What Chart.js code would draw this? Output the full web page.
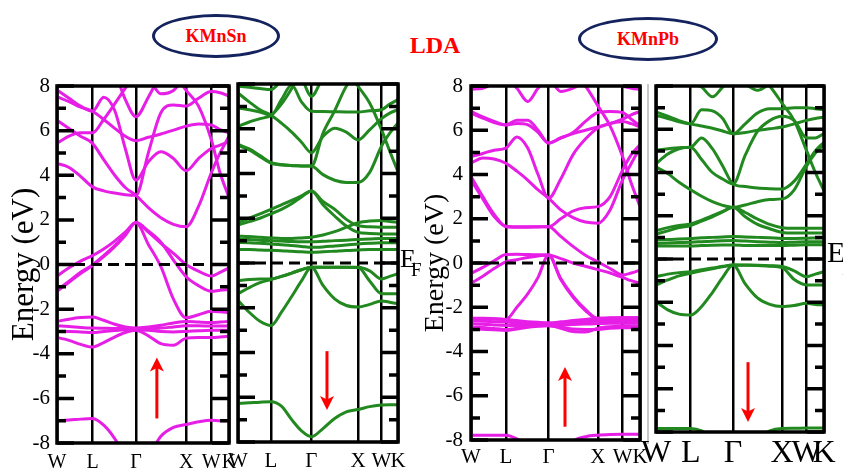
<!DOCTYPE html>
<html>
<head>
<meta charset="utf-8">
<script src="https://cdn.jsdelivr.net/npm/chart.js@4.4.1/dist/chart.umd.min.js"></script>
<style>
  html, body { margin: 0; padding: 0; background: #fff; }
  #wrap { position: relative; width: 843px; height: 471px; overflow: hidden; background: #fff; }
  #wrap canvas { position: absolute; left: 0; top: 0; }
  .tag {
    position: absolute; box-sizing: border-box; border: 3px solid #14235e; border-radius: 50%;
    display: flex; align-items: center; justify-content: center;
    font: bold 18px "Liberation Serif", "Times New Roman", serif; color: #f00;
  }
  .lbl { position: absolute; font-family: "Liberation Serif", "Times New Roman", serif; color: #000; line-height: 1; white-space: nowrap; }
  .sep { position: absolute; background: #c8c8c8; }
</style>
</head>
<body>
<div id="wrap">
  <div class="tag" style="left:152px;top:14px;width:128px;height:44px;">KMnSn</div>
  <div class="lbl" style="left:385px;top:33px;width:100px;text-align:center;font-weight:bold;font-size:24px;color:#f00;">LDA</div>
  <div class="tag" style="left:578px;top:17px;width:140px;height:44px;">KMnPb</div>
  <div class="sep" style="left:647px;top:84px;width:1.5px;height:360px;"></div>
  <canvas id="c1" width="843" height="471"></canvas>
  <canvas id="c2" width="843" height="471"></canvas>
  <canvas id="c3" width="843" height="471"></canvas>
  <canvas id="c4" width="843" height="471"></canvas>
  <div class="lbl" style="left:400px;top:246px;font-size:26px;">E</div>
  <div class="lbl" style="left:411px;top:260px;font-size:19px;">F</div>
  <div class="lbl" style="left:827px;top:237px;font-size:30px;">E</div>
  <div class="lbl" style="left:842px;top:258px;font-size:20px;">F</div>
</div>
<script>
// k-path W-L-Γ-X-W-K (distances in units of 2π/a) and the sampling grid used for every band
const kGrid = [0, 0.24, 0.47, 0.707, 0.93, 1.15, 1.36, 1.573, 1.82, 2.07, 2.32, 2.573, 2.82, 3.073, 3.25, 3.427];
const kPoints = [0, 0.707, 1.573, 2.573, 3.073, 3.427];
const kLabels = ['W', 'L', 'Γ', 'X', 'W', 'K'];
const energyTicks = [8, 6, 4, 2, 0, -2, -4, -6, -8];

// KMnSn, spin up (eV)
const snUpBands = [
  [-7.0,-6.97,-6.93,-6.9,-7.2,-7.8,-8.6,-9.2,-8.6,-7.7,-7.3,-7.17,-7.05,-6.98,-7.0,-7.0],
  [-2.55,-2.45,-2.38,-2.35,-2.5,-2.68,-2.8,-2.85,-2.8,-2.72,-2.62,-2.55,-2.58,-2.6,-2.58,-2.55],
  [-2.75,-2.78,-2.82,-2.85,-2.86,-2.87,-2.88,-2.9,-2.88,-2.85,-2.8,-2.75,-2.75,-2.76,-2.76,-2.75],
  [-3.0,-3.0,-3.02,-3.05,-3.0,-2.96,-2.93,-2.92,-2.95,-3.0,-3.02,-3.0,-2.97,-2.95,-2.95,-2.95],
  [-3.27,-3.4,-3.58,-3.7,-3.5,-3.25,-3.05,-2.95,-3.2,-3.55,-3.62,-3.3,-3.27,-3.27,-3.25,-3.22],
  [-0.52,-0.15,0.15,0.4,0.7,1.05,1.45,1.88,1.45,0.95,0.5,0.0,-0.3,-0.52,-0.35,-0.15],
  [-1.2,-0.8,-0.4,-0.05,0.35,0.8,1.3,1.88,0.9,-0.1,-1.55,-2.39,-2.25,-2.1,-2.12,-2.15],
  [-1.15,-0.75,-0.35,-0.02,0.4,0.85,1.35,1.88,1.5,1.0,0.2,-0.55,-0.95,-1.2,-1.15,-1.12],
  [7.82,7.45,7.1,6.87,7.5,6.9,5.2,3.78,4.6,5.05,4.75,4.2,4.75,5.2,5.35,5.5],
  [7.52,7.3,7.05,6.87,6.5,6.1,5.75,5.55,5.7,5.85,6.02,6.2,6.3,6.25,6.05,5.9],
  [5.43,5.75,5.9,5.9,6.5,7.2,7.9,8.6,9,9,9,9,9,9,9,9],
  [9,9,9,9,9,8.6,7.4,6.62,7.5,8.5,9,9,9,9,9,9],
  [6.47,6.1,5.75,5.43,4.7,4.0,3.45,3.1,2.55,2.1,1.8,1.69,2.6,4.1,5.0,5.75],
  [4.53,4.35,3.95,3.48,3.3,3.2,3.13,3.1,5.0,6.8,7.15,7.1,7.45,7.75,7.7,7.55],
  [9,9,9,9,9,9,9,9,8.4,7.65,7.8,8.5,9,9,9,9],
  [9,9,9,9,9,9,9,9,9,8.9,8.6,7.8,7.1,5.6,4.1,3.0]
];

// KMnSn, spin down (eV)
const snDownBands = [
  [-6.28,-6.25,-6.22,-6.2,-6.4,-7.0,-7.5,-7.76,-7.4,-6.95,-6.65,-6.55,-6.42,-6.35,-6.33,-6.33],
  [-0.78,-0.74,-0.72,-0.71,-0.6,-0.45,-0.3,-0.19,-0.19,-0.19,-0.19,-0.19,-0.35,-0.71,-0.6,-0.48],
  [-1.37,-1.1,-0.88,-0.74,-0.6,-0.45,-0.3,-0.19,-1.0,-1.6,-1.9,-1.97,-1.85,-1.7,-1.75,-1.82],
  [-1.67,-2.2,-2.6,-2.79,-2.2,-1.5,-0.8,-0.19,-0.19,-0.19,-0.19,-0.2,-0.8,-1.37,-1.37,-1.37],
  [1.81,2.0,2.2,2.4,2.6,2.8,3.0,3.22,2.75,2.4,1.95,1.67,1.62,1.6,1.6,1.6],
  [1.7,1.85,2.0,2.2,2.4,2.65,2.95,3.22,2.6,2.1,1.65,1.37,1.32,1.3,1.3,1.3],
  [1.07,1.05,1.02,1.0,0.98,0.96,0.95,0.95,0.97,1.0,1.02,1.05,1.07,1.1,1.1,1.1],
  [0.92,0.9,0.88,0.85,0.82,0.78,0.74,0.7,0.72,0.76,0.8,0.85,0.88,0.9,0.9,0.9],
  [0.6,0.6,0.58,0.57,0.55,0.52,0.5,0.48,0.5,0.53,0.56,0.58,0.6,0.6,0.6,0.6],
  [1.2,1.18,1.15,1.12,1.1,1.1,1.12,1.15,1.25,1.4,1.6,1.8,1.88,1.9,1.85,1.82],
  [7.6,7.2,6.85,6.6,6.25,5.85,5.4,4.93,5.65,6.02,5.85,5.5,5.95,6.45,6.7,6.85],
  [6.93,6.85,6.75,6.6,7.3,7.95,7.2,6.78,6.77,6.76,6.75,6.75,6.8,6.85,7.1,7.3],
  [9,9,9,9,9,9,8.3,7.45,8.3,9,9,9,9,9,9,9],
  [6.1,6.3,6.45,6.6,7.1,7.8,8.6,9,9,9,9,9,9,9,9,9],
  [5.3,5.1,4.8,4.48,4.4,4.36,4.34,4.33,3.95,3.7,3.6,3.6,4.05,5.22,5.8,6.26],
  [5.25,5.05,4.75,4.46,4.38,4.35,4.34,4.33,5.8,6.8,7.9,8.5,9,9,9,9],
  [9,9,9,9,9,9,9,9,9,9,8.7,7.9,7.15,5.96,5.0,4.07],
  [7.9,7.85,7.8,7.75,8.2,9,9,9,9,9,9,9,9,9,9,9]
];

// KMnPb, spin up (eV)
const pbUpBands = [
  [-7.78,-7.78,-7.78,-7.78,-7.95,-8.3,-8.8,-9.0,-8.7,-8.05,-7.85,-7.78,-7.75,-7.74,-7.74,-7.74],
  [-2.5,-2.5,-2.52,-2.55,-2.6,-2.65,-2.68,-2.7,-2.66,-2.6,-2.55,-2.5,-2.48,-2.47,-2.47,-2.48],
  [-2.62,-2.63,-2.65,-2.67,-2.7,-2.72,-2.74,-2.75,-2.72,-2.68,-2.65,-2.62,-2.6,-2.6,-2.6,-2.6],
  [-2.75,-2.77,-2.8,-2.82,-2.82,-2.8,-2.8,-2.8,-2.8,-2.78,-2.76,-2.74,-2.72,-2.72,-2.72,-2.72],
  [-2.9,-2.92,-2.96,-3.0,-2.95,-2.88,-2.84,-2.82,-2.95,-3.1,-3.12,-2.95,-2.88,-2.85,-2.85,-2.85],
  [-2.98,-3.0,-3.02,-3.05,-2.98,-2.9,-2.86,-2.84,-2.9,-2.98,-3.0,-3.0,-2.95,-2.93,-2.93,-2.93],
  [-0.47,-0.2,0.1,0.38,0.4,0.38,0.37,0.36,0.2,0.0,-0.15,-0.3,-0.45,-0.65,-0.8,-0.92],
  [-0.92,-0.6,-0.25,0.05,0.15,0.25,0.32,0.36,-0.7,-1.5,-2.1,-2.5,-2.5,-2.52,-2.52,-2.52],
  [-2.5,-2.52,-2.53,-2.55,-2.0,-1.4,-0.65,0.36,-0.75,-1.55,-2.15,-2.53,-2.5,-2.48,-2.48,-2.48],
  [6.85,6.6,6.4,6.24,6.45,6.45,6.0,5.42,5.65,5.85,6.0,6.15,6.3,6.4,6.3,6.15],
  [6.77,6.55,6.35,6.24,6.3,6.25,5.9,5.42,5.65,5.9,6.4,6.8,6.85,6.8,6.5,6.2],
  [4.81,4.95,5.1,5.19,5.7,5.2,4.0,2.93,3.8,4.9,5.6,6.1,6.3,6.5,6.7,6.85],
  [4.51,4.75,4.7,4.51,4.15,3.75,3.3,2.93,2.4,2.05,1.85,1.8,2.4,3.76,4.5,5.2],
  [3.91,3.0,2.2,1.64,1.62,1.62,1.63,1.64,1.2,0.75,0.35,0.05,-0.25,-0.54,-0.45,-0.32],
  [3.76,2.9,2.1,1.66,1.64,1.64,1.64,1.64,2.0,2.35,2.5,2.55,3.0,4.2,4.9,5.35],
  [8.6,8.6,8.6,8.6,8.6,8.6,8.6,8.6,8.6,8.5,8.0,7.1,6.2,4.81,3.6,2.55],
  [7.85,7.9,8.1,8.3,7.9,7.3,7.9,8.3,7.75,7.9,8.2,8.4,8.3,8.0,7.9,7.85]
];

// KMnPb, spin down (eV)
const pbDownBands = [
  [-7.84,-7.84,-7.84,-7.84,-7.95,-8.3,-8.7,-8.9,-8.7,-8.3,-7.95,-7.84,-7.83,-7.82,-7.82,-7.82],
  [-0.82,-0.7,-0.63,-0.59,-0.5,-0.42,-0.34,-0.28,-0.28,-0.29,-0.31,-0.35,-0.55,-0.82,-0.7,-0.59],
  [-1.2,-0.97,-0.78,-0.66,-0.55,-0.45,-0.36,-0.28,-0.29,-0.3,-0.33,-0.4,-0.95,-1.2,-1.2,-1.2],
  [-1.97,-2.35,-2.55,-2.59,-2.2,-1.55,-0.85,-0.28,-1.15,-1.8,-2.1,-2.2,-2.15,-2.05,-2.1,-2.13],
  [1.31,1.45,1.55,1.62,1.8,2.0,2.2,2.39,1.95,1.6,1.4,1.23,1.2,1.2,1.2,1.2],
  [1.15,1.3,1.45,1.55,1.75,1.95,2.18,2.39,2.15,1.85,1.6,1.45,1.42,1.42,1.42,1.42],
  [0.88,0.9,0.92,0.95,0.98,1.0,1.02,1.04,1.02,1.0,0.98,0.95,0.95,0.96,0.97,0.98],
  [0.72,0.74,0.76,0.78,0.8,0.82,0.84,0.85,0.83,0.8,0.78,0.76,0.78,0.8,0.8,0.8],
  [0.6,0.6,0.6,0.6,0.62,0.64,0.65,0.65,0.63,0.62,0.62,0.62,0.64,0.66,0.66,0.66],
  [6.8,6.6,6.4,6.25,6.15,6.05,5.92,5.79,5.85,5.95,6.02,6.1,6.25,6.41,6.5,6.56],
  [6.64,6.5,6.35,6.25,6.9,6.85,6.5,5.79,6.25,6.75,6.95,6.95,7.0,7.0,6.95,6.9],
  [5.02,5.1,5.15,5.17,5.6,5.1,4.3,3.47,3.35,3.28,3.25,3.24,3.6,4.4,5.0,5.4],
  [4.4,4.85,5.1,5.17,4.6,4.0,3.7,3.47,4.8,5.9,6.4,6.6,6.4,5.6,5.6,5.8],
  [4.25,3.95,3.55,3.2,2.9,2.65,2.48,2.39,2.5,2.65,2.75,2.78,3.2,4.3,4.9,5.3],
  [9,9,9,9,9,9,9,9,8.9,8.6,8.0,7.2,6.4,5.0,4.0,3.16],
  [8.5,8.4,8.3,8.15,7.95,7.5,7.95,8.4,8.1,7.8,8.1,8.5,8.6,8.6,8.6,8.6]
];

// spin arrows: [k position, tail energy, tip energy]
const snUpArrow = [1.99, -6.9, -4.17];
const snDownArrow = [1.906, -3.94, -6.57];
const pbUpArrow = [1.906, -7.4, -4.7];
const pbDownArrow = [1.877, -4.77, -7.54];

const MAGENTA = '#e61ee6';
const GREEN = '#21891f';
const SERIF = '"Liberation Serif", "Times New Roman", serif';

// frame, inward energy ticks and the spin arrow
const framePlugin = {
  id: 'bandFrame',
  afterDatasetsDraw(chart, args, opts) {
    const { ctx, chartArea: a } = chart;
    const ys = chart.scales.y, xs = chart.scales.x;
    ctx.save();
    ctx.strokeStyle = '#000';
    ctx.lineWidth = 3.5;
    ctx.lineCap = 'butt';
    ctx.beginPath();
    for (let v = -8; v <= 8; v++) {
      const y = ys.getPixelForValue(v);
      const len = v % 2 === 0 ? 17 : 9;
      ctx.moveTo(a.left, y); ctx.lineTo(a.left + len, y);
      ctx.moveTo(a.right, y); ctx.lineTo(a.right - len, y);
    }
    ctx.stroke();
    ctx.strokeRect(a.left, a.top, a.right - a.left, a.bottom - a.top);

    const arr = opts.arrow;
    if (arr) {
      const x = xs.getPixelForValue(arr[0]);
      const y0 = ys.getPixelForValue(arr[1]);
      const y1 = ys.getPixelForValue(arr[2]);
      const dir = Math.sign(y1 - y0);
      const head = 14, half = 7;
      ctx.strokeStyle = '#f00';
      ctx.fillStyle = '#f00';
      ctx.lineWidth = 3;
      ctx.beginPath();
      ctx.moveTo(x, y0); ctx.lineTo(x, y1 - dir * head * 0.7);
      ctx.stroke();
      ctx.beginPath();
      ctx.moveTo(x, y1);
      ctx.lineTo(x - half, y1 - dir * head);
      ctx.lineTo(x, y1 - dir * head * 0.75);
      ctx.lineTo(x + half, y1 - dir * head);
      ctx.closePath();
      ctx.fill();
    }
    ctx.restore();
  }
};

function makePanel(p) {
  const datasets = p.bands.map(b => ({
    data: kGrid.map((k, i) => ({ x: k, y: b[i] })),
    borderColor: p.color,
    borderWidth: 3,
    pointRadius: 0,
    fill: false,
    cubicInterpolationMode: 'monotone'
  }));
  datasets.unshift({
    data: [{ x: kPoints[0], y: 0 }, { x: kPoints[kPoints.length - 1], y: 0 }],
    borderColor: '#000',
    borderWidth: 3,
    borderDash: [11, 6],
    pointRadius: 0,
    fill: false,
    order: -1
  });
  const a = p.area;
  new Chart(document.getElementById(p.id), {
    type: 'line',
    data: { datasets },
    options: {
      responsive: false,
      animation: false,
      events: [],
      layout: { padding: { left: a.left - p.yWidth, right: 843 - a.right, top: a.top, bottom: 0 } },
      plugins: {
        legend: { display: false },
        tooltip: { enabled: false },
        bandFrame: { arrow: p.arrow }
      },
      scales: {
        x: {
          type: 'linear', min: kPoints[0], max: kPoints[kPoints.length - 1],
          afterBuildTicks: s => { s.ticks = kPoints.map(v => ({ value: v })); },
          afterFit: s => { s.height = 471 - a.bottom; },
          grid: { color: '#000', lineWidth: 2.5, drawTicks: false },
          border: { display: false },
          ticks: {
            autoSkip: false, maxRotation: 0, padding: p.xPad, color: '#000',
            font: { family: SERIF, size: p.xFont },
            callback: (v, i) => kLabels[i]
          }
        },
        y: {
          type: 'linear', min: -8, max: 8,
          afterBuildTicks: s => { s.ticks = energyTicks.map(v => ({ value: v })); },
          afterFit: s => { s.width = p.yWidth; },
          grid: { display: false, drawTicks: false },
          border: { display: false },
          ticks: {
            display: p.yLabels, padding: p.yTickPad, color: '#000',
            font: { family: SERIF, size: 21 },
            callback: v => String(v)
          },
          title: {
            display: p.yLabels, text: 'Energy (eV)', color: '#000',
            font: { family: SERIF, size: p.titleFont || 30 },
            padding: { top: p.titlePad || 0, bottom: 0 }
          }
        }
      }
    },
    plugins: [framePlugin]
  });
}

makePanel({ id: 'c1', bands: snUpBands, color: MAGENTA, arrow: snUpArrow,
  area: { left: 57, top: 86, right: 229, bottom: 443 }, yWidth: 57, yLabels: true,
  yTickPad: 7, titleFont: 31, titlePad: 6, xFont: 20, xPad: 8 });
makePanel({ id: 'c2', bands: snDownBands, color: GREEN, arrow: snDownArrow,
  area: { left: 238, top: 84, right: 398, bottom: 442 }, yWidth: 238, yLabels: false,
  xFont: 21, xPad: 7 });
makePanel({ id: 'c3', bands: pbUpBands, color: MAGENTA, arrow: pbUpArrow,
  area: { left: 471, top: 86, right: 640, bottom: 440 }, yWidth: 60, yLabels: true,
  yTickPad: 8, titleFont: 28, titlePad: 8, xFont: 21, xPad: 5 });
makePanel({ id: 'c4', bands: pbDownBands, color: GREEN, arrow: pbDownArrow,
  area: { left: 656, top: 86, right: 824, bottom: 432 }, yWidth: 656, yLabels: false,
  xFont: 32, xPad: 2 });
</script>
</body>
</html>
